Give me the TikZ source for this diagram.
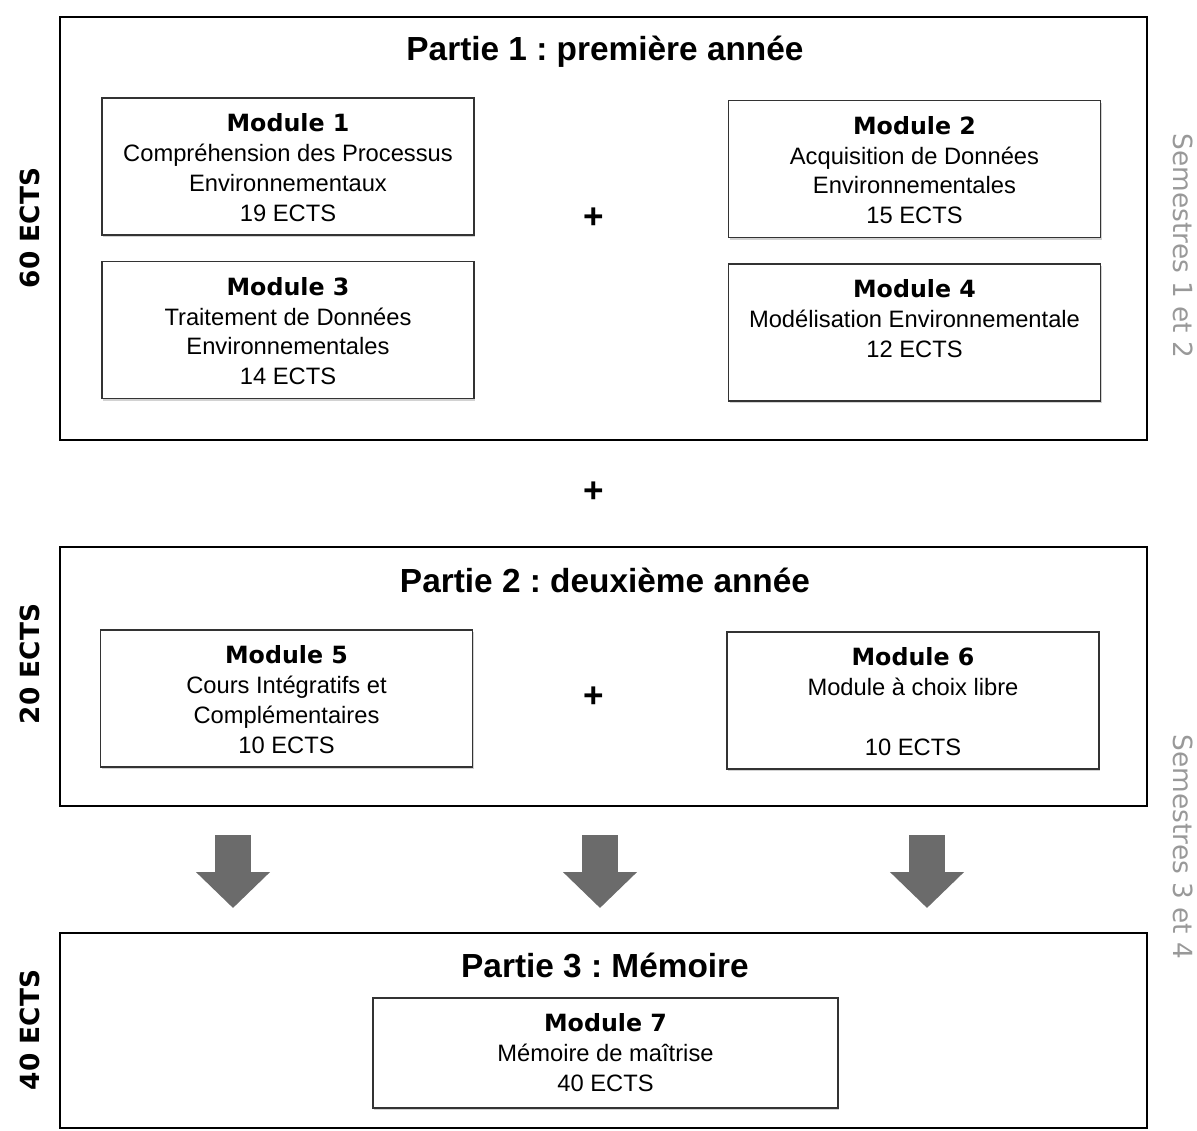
\documentclass[tikz,border=0pt]{standalone}
\usepackage{fontspec}
\setmainfont{Liberation Sans}
\newfontfamily\verdfont{DejaVu Sans}
\usetikzlibrary{positioning,arrows.meta,shadows}
\frenchspacing

\begin{document}
\begin{tikzpicture}[x=0.02cm,y=-0.02cm,
		partbox/.style={draw=black,line width=1.4pt,fill=white,minimum width=21.74cm,inner sep=0pt,drop shadow={shadow xshift=0.5pt,shadow yshift=-0.8pt,opacity=0.3}},
		modbox/.style={draw=black!80,line width=0.8pt,fill=white,minimum width=7.44cm,minimum height=2.74cm,inner sep=0pt,drop shadow={shadow xshift=0.6pt,shadow yshift=-1.2pt,opacity=0.35}},
		modtext/.style={align=center,inner sep=0pt,anchor=north,font=\fontsize{13.5}{17}\selectfont},
		parttitle/.style={anchor=base,font=\fontsize{19}{22}\selectfont\bfseries},
		plus/.style={font=\fontsize{20}{22}\selectfont\bfseries},
		ects/.style={rotate=90,font=\verdfont\fontsize{15}{18}\selectfont\bfseries},
		semlabel/.style={rotate=-90,text=black!40,font=\verdfont\fontsize{15}{18}\selectfont},
		bigarrow/.style={draw=black!58,line width=0.72cm,-{Triangle[width=1.44cm,length=0.72cm]}}]
	\useasboundingbox (0,0) rectangle (1197,1130);

	% Partie 1
	\node[partbox,minimum height=8.46cm] (part1) at (603.5,228.5) {};
	\node[parttitle] (title1) at (605,60) {Partie 1 : première année};
	\node[modbox] (m1) at (288,166.5) {};
	\node[modbox] (m2) at (914.5,169) {};
	\node[modbox] (m3) at (288,330) {};
	\node[modbox] (m4) at (914.5,332.5) {};
	\node[modtext] (m1t) at ([yshift=-0.32cm]m1.north) {{\verdfont\bfseries Module 1}\\Compréhension des Processus\\Environnementaux\\19 ECTS};
	\node[modtext] (m2t) at ([yshift=-0.32cm]m2.north) {{\verdfont\bfseries Module 2}\\Acquisition de Données\\Environnementales\\15 ECTS};
	\node[modtext] (m3t) at ([yshift=-0.32cm]m3.north) {{\verdfont\bfseries Module 3}\\Traitement de Données\\Environnementales\\14 ECTS};
	\node[modtext] (m4t) at ([yshift=-0.32cm]m4.north) {{\verdfont\bfseries Module 4}\\Modélisation Environnementale\\12 ECTS};
	\node[plus] (plus1) at (594,218) {+};

	\node[plus] (plus2) at (594,492) {+};

	% Partie 2
	\node[partbox,minimum height=5.18cm] (part2) at (603.5,676.5) {};
	\node[parttitle] (title2) at (605,592) {Partie 2 : deuxième année};
	\node[modbox] (m5) at (286.5,698.5) {};
	\node[modbox] (m6) at (913,700.5) {};
	\node[modtext] (m5t) at ([yshift=-0.32cm]m5.north) {{\verdfont\bfseries Module 5}\\Cours Intégratifs et\\Complémentaires\\10 ECTS};
	\node[modtext] (m6t) at ([yshift=-0.32cm]m6.north) {{\verdfont\bfseries Module 6}\\Module à choix libre\\[17pt]10 ECTS};
	\node[plus] (plus3) at (594,697) {+};

	% fleches
	\coordinate (a1) at (233,835);
	\coordinate (b1) at (233,908);
	\coordinate (a2) at (600,835);
	\coordinate (b2) at (600,908);
	\coordinate (a3) at (927,835);
	\coordinate (b3) at (927,908);
	\draw[bigarrow] (a1) -- (b1);
	\draw[bigarrow] (a2) -- (b2);
	\draw[bigarrow] (a3) -- (b3);

	% Partie 3
	\node[partbox,minimum height=3.9cm] (part3) at (603.5,1030.5) {};
	\node[parttitle] (title3) at (605,977) {Partie 3 : Mémoire};
	\node[modbox,minimum width=9.3cm,minimum height=2.2cm] (m7) at (605.5,1053) {};
	\node[modtext] (m7t) at ([yshift=-0.32cm]m7.north) {{\verdfont\bfseries Module 7}\\Mémoire de maîtrise\\40 ECTS};

	% credits et semestres
	\node[ects] (ects1) at (30,228) {60 ECTS};
	\node[ects] (ects2) at (30,664) {20 ECTS};
	\node[ects] (ects3) at (30,1030) {40 ECTS};
	\node[semlabel] (sem1) at (1183,246) {Semestres 1 et 2};
	\node[semlabel] (sem2) at (1183,847) {Semestres 3 et 4};
\end{tikzpicture}
\end{document}
